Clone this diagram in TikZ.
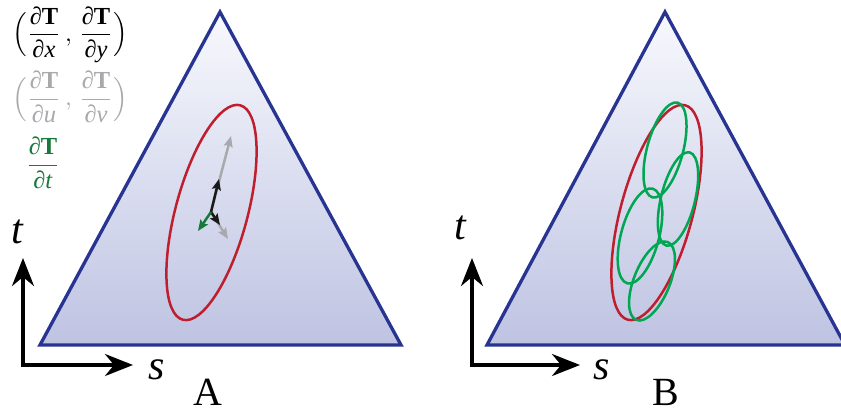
\documentclass[tikz,border=0pt]{standalone}
\usepackage{amsmath}
\usepackage{graphicx}
\usepackage{fontspec}
\setmainfont{Liberation Serif}
\usetikzlibrary{arrows.meta}
\definecolor{triblue}{RGB}{40,52,145}
\definecolor{ellred}{RGB}{190,30,45}
\definecolor{ellgreen}{RGB}{0,166,81}
\definecolor{dgreen}{RGB}{25,120,60}
\definecolor{topfill}{RGB}{248,249,253}
\definecolor{botfill}{RGB}{190,195,226}
\definecolor{vgray}{RGB}{167,169,172}
\tikzset{
  tri/.style={draw=triblue,line width=3.3pt,line join=miter},
  triback/.style={top color=topfill,bottom color=botfill},
  redell/.style={draw=ellred,line width=2.5pt},
  greenell/.style={draw=ellgreen,line width=2.5pt},
  axisarr/.style={line width=3.5pt,{Stealth[length=28pt,width=22pt,inset=9pt]}-{Stealth[length=28pt,width=22pt,inset=9pt]}},
  vecarr/.style={line width=2.5pt,-{Stealth[length=11pt,width=9pt,inset=2pt]}},
  axlbl/.style={inner sep=0pt,font=\fontsize{42}{48}\selectfont\itshape},
  panellbl/.style={inner sep=0pt,font=\fontsize{40}{46}\selectfont},
  frm/.style={inner sep=0pt}
}
\newcommand{\bigfrm}[1]{\scalebox{2.45}{#1}}
\newcommand{\pd}[1]{\dfrac{\text{∂\textbf{T}}}{\text{∂\textit{#1}}}}
\begin{document}
\begin{tikzpicture}[x=1pt,y=-1pt]
\useasboundingbox (0,0) rectangle (841,413);
% triangle A
\coordinate (A1) at (220,12);
\coordinate (A2) at (40,345);
\coordinate (A3) at (401,345);
\shade[triback] (A1)--(A2)--(A3)--cycle;
\draw[tri] (A1)--(A2)--(A3)--cycle;
% triangle B
\coordinate (B1) at (665,12);
\coordinate (B2) at (487,345);
\coordinate (B3) at (845,345);
\shade[triback] (B1)--(B2)--(B3)--cycle;
\draw[tri] (B1)--(B2)--(B3)--cycle;
% ellipse A
\coordinate (EA) at (211.5,212.5);
\draw[redell,rotate around={75:(EA)}] (EA) ellipse [x radius=111,y radius=36];
% vectors A
\coordinate (V0) at (211,212);
\coordinate (G1) at (231,136);
\coordinate (G2) at (228,239);
\coordinate (K1) at (219,179);
\coordinate (K2) at (220,225);
\coordinate (Q1) at (198,231);
\draw[vecarr,vgray] (V0) -- (G1);
\draw[vecarr,vgray] (V0) -- (G2);
\draw[vecarr,black!90] (V0) -- (K1);
\draw[vecarr,black!90] (V0) -- (K2);
\draw[vecarr,dgreen] (V0) -- (Q1);
% ellipse B
\coordinate (EB) at (656.5,212.5);
\draw[redell,rotate around={75:(EB)}] (EB) ellipse [x radius=111,y radius=36];
\coordinate (C1) at (665,150);
\coordinate (C2) at (678,199);
\coordinate (C3) at (640,236);
\coordinate (C4) at (652,281);
\draw[greenell,rotate around={75:(C1)}] (C1) ellipse [x radius=49,y radius=18];
\draw[greenell,rotate around={76:(C2)}] (C2) ellipse [x radius=48,y radius=17];
\draw[greenell,rotate around={75:(C3)}] (C3) ellipse [x radius=49,y radius=19];
\draw[greenell,rotate around={68:(C4)}] (C4) ellipse [x radius=42,y radius=18];
% axes A
\coordinate (OA) at (23,365);
\coordinate (TA) at (23,258);
\coordinate (SA) at (133,365);
\draw[axisarr] (TA) -- (OA) -- (SA);
\node[axlbl] (tA) at (17,232) {t};
\node[axlbl] (sA) at (157,370) {s};
\node[panellbl] (capA) at (208,392) {A};
% axes B
\coordinate (OB) at (472,365);
\coordinate (TB) at (472,258);
\coordinate (SB) at (580,365);
\draw[axisarr] (TB) -- (OB) -- (SB);
\node[axlbl] (tB) at (460,228) {t};
\node[axlbl] (sB) at (602,370) {s};
\node[panellbl] (capB) at (666,392) {B};
% formulas
\node[frm,text=black] (fxy) at (70,35) {\bigfrm{$\Bigl(\pd{x}\,,\mkern2mu\pd{y}\Bigr)$}};
\node[frm,text=vgray] (fuv) at (70,97) {\bigfrm{$\Bigl(\pd{u}\,,\mkern2mu\pd{v}\Bigr)$}};
\node[frm,text=dgreen] (ft) at (43,163) {\bigfrm{$\pd{t}$}};
\end{tikzpicture}
\end{document}
